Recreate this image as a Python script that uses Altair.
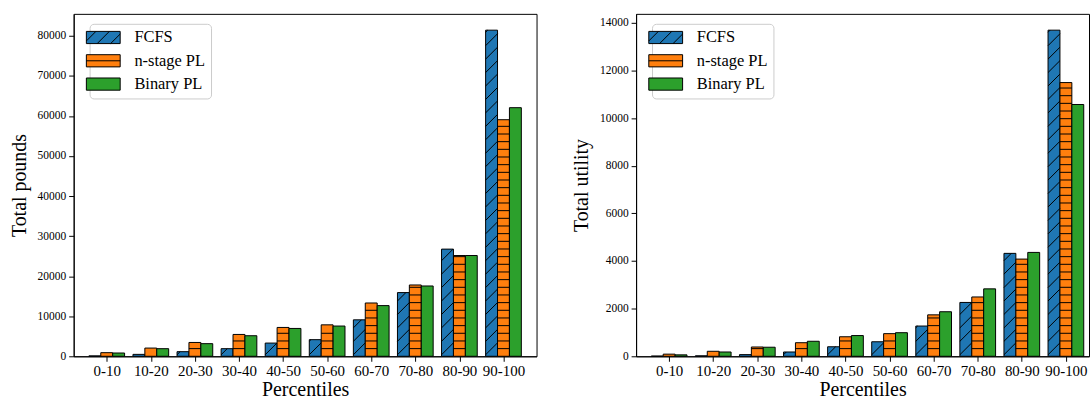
import altair as alt
import pandas as pd

categories = ["0-10", "10-20", "20-30", "30-40", "40-50",
              "50-60", "60-70", "70-80", "80-90", "90-100"]
series = ["FCFS", "n-stage PL", "Binary PL"]
colors = ["#1f77b4", "#ff7f0e", "#2ca02c"]

pounds_fcfs = [100, 480, 1150, 1900, 3300, 4150, 9100, 15900, 26750, 81400]
pounds_nstage = [900, 2050, 3450, 5450, 7200, 7850, 13300, 17800, 25150, 59050]
pounds_binary = [820, 1900, 3150, 5130, 6950, 7550, 12650, 17550, 25150, 62050]
pounds_ticks = [0, 10000, 20000, 30000, 40000, 50000, 60000, 70000, 80000]

utility_fcfs = [10, 20, 70, 180, 400, 610, 1270, 2260, 4320, 13690]
utility_nstage = [90, 210, 390, 570, 820, 950, 1740, 2490, 4080, 11490]
utility_binary = [60, 180, 380, 630, 870, 990, 1870, 2830, 4360, 10570]
utility_ticks = [0, 2000, 4000, 6000, 8000, 10000, 12000, 14000]

FONT = "Liberation Serif"
BAR_W = 0.27
PLOT_H = 344
DIAG_SP = 13.5
HOR_SP = 7.7

RECT = "M-2.83,-1.02H2.83V1.02H-2.83Z"
P_FCFS = RECT + " M-2.83,0.58L-1.23,-1.02 M-1.02,1.02L1.02,-1.02 M1.23,1.02L2.83,-0.58"
P_NST = RECT + " M-2.83,0L2.83,0"
P_BIN = RECT
shape_expr = "datum.value === '%s' ? '%s' : (datum.value === '%s' ? '%s' : '%s')" % (
    series[0], P_FCFS, series[1], P_NST, P_BIN)

label_expr = "[" + ",".join("'%s'" % c for c in categories) + "][datum.value]"


def panel(vals, ytitle, yticks, width, xdom):
    ymax = max(max(v) for v in vals) * 1.05
    px_x = width / (xdom[1] - xdom[0])
    px_y = PLOT_H / ymax
    bw = BAR_W * px_x
    bars, hatch = [], []
    for j, s in enumerate(series):
        for i, c in enumerate(categories):
            xc = i + (j - 1) * BAR_W
            x0, x1 = xc - BAR_W / 2, xc + BAR_W / 2
            v = vals[j][i]
            bars.append(dict(series=s, x0=x0, x1=x1, v=v, base=0))
            vpx = v * px_y
            if j == 0:
                k = 0
                while True:
                    ck = k * DIAG_SP - bw
                    if ck >= vpx:
                        break
                    us = max(0.0, -ck)
                    ue = min(bw, vpx - ck)
                    if ue - us > 0.5:
                        hatch.append(dict(hx0=x0 + us / px_x, hx1=x0 + ue / px_x,
                                          hy0=(us + ck) / px_y, hy1=(ue + ck) / px_y))
                    k += 1
            elif j == 1:
                k = 1
                while k * HOR_SP < vpx - 0.8:
                    y = k * HOR_SP / px_y
                    hatch.append(dict(hx0=x0, hx1=x1, hy0=y, hy1=y))
                    k += 1
    bdf = pd.DataFrame(bars)
    hdf = pd.DataFrame(hatch)

    xscale = alt.Scale(domain=xdom, nice=False, zero=False)
    yscale = alt.Scale(domain=[0, ymax], nice=False)
    xaxis = alt.Axis(values=list(range(len(categories))), labelExpr=label_expr,
                     title="Percentiles", grid=False, labelFont=FONT, labelFontSize=15,
                     labelColor="black", labelFlush=False, labelOverlap=False,
                     tickSize=5, tickColor="black", domainColor="black",
                     labelPadding=2, titleFont=FONT, titleFontSize=20,
                     titleFontWeight="normal", titleColor="black", titlePadding=1)
    yaxis = alt.Axis(values=yticks, title=ytitle, grid=False, labelFont=FONT,
                     labelFontSize=11.5, labelColor="black", tickSize=5,
                     tickColor="black", domainColor="black", labelPadding=3,
                     format="d", titleFont=FONT, titleFontSize=20,
                     titleFontWeight="normal", titleColor="black", titlePadding=8)
    leg = alt.Legend(title=None, orient="none", legendX=16, legendY=10,
                     labelFont=FONT, labelFontSize=16.5, labelColor="black",
                     symbolType={"expr": shape_expr},
                     symbolSize=144, symbolStrokeColor="black", symbolStrokeWidth=1,
                     padding=5.5, rowPadding=6.4, labelOffset=23,
                     fillColor="white", strokeColor="#cccccc", cornerRadius=4)

    bar = alt.Chart(bdf).mark_bar(stroke="black", strokeWidth=1, opacity=1).encode(
        x=alt.X("x0:Q", scale=xscale, axis=xaxis),
        x2="x1:Q",
        y=alt.Y("v:Q", scale=yscale, axis=yaxis),
        y2="base:Q",
        color=alt.Color("series:N", scale=alt.Scale(domain=series, range=colors),
                        sort=series, legend=leg),
    )
    lines = alt.Chart(hdf).mark_rule(color="black", strokeWidth=1, opacity=1).encode(
        x=alt.X("hx0:Q", scale=xscale, axis=xaxis),
        x2="hx1:Q",
        y=alt.Y("hy0:Q", scale=yscale, axis=yaxis),
        y2="hy1:Q",
    )
    return alt.layer(bar, lines).properties(width=width, height=PLOT_H)


left = panel([pounds_fcfs, pounds_nstage, pounds_binary], "Total pounds",
             pounds_ticks, 465, [-0.75, 9.75])
right = panel([utility_fcfs, utility_nstage, utility_binary], "Total utility",
              utility_ticks, 455, [-0.75, 9.75 - 10 / 44.29])

chart = alt.hconcat(left, right, spacing=33).resolve_scale(
    x="independent", y="independent", color="independent"
).resolve_legend(color="independent").properties(
    padding={"left": 8, "top": 12, "right": 0, "bottom": 0}
).configure_view(stroke="black", strokeWidth=1)

chart.save("out.html", embed_options={"renderer": "svg", "actions": False})
